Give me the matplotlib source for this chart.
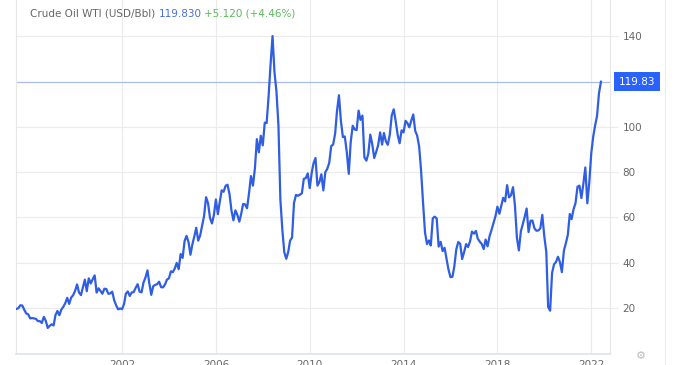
import matplotlib
matplotlib.use("Agg")
import matplotlib.pyplot as plt
import pandas as pd

# monthly WTI crude, Jul 1997 .. Jun 2022
wti_1997 = [19.6, 19.9, 21.2, 21.1, 19.2, 17.6]
wti_1998 = [17.2, 15.4, 15.6, 15.4, 15.2, 14.2, 14.2, 13.4, 16.1, 14.4, 11.2, 12.1]
wti_1999 = [12.8, 12.3, 16.8, 18.7, 16.8, 19.3, 20.5, 22.1, 24.5, 21.8, 24.6, 25.6]
wti_2000 = [27.6, 30.4, 26.9, 25.7, 29.0, 32.5, 27.4, 33.1, 30.8, 32.7, 34.4, 26.8]
wti_2001 = [28.7, 27.4, 26.3, 28.5, 28.4, 26.3, 26.4, 27.2, 23.4, 21.2, 19.4, 19.8]
wti_2002 = [19.5, 21.7, 26.3, 27.3, 25.3, 26.9, 27.0, 28.9, 30.5, 27.2, 26.9, 31.2]
wti_2003 = [33.5, 36.6, 31.0, 25.8, 29.6, 30.2, 30.5, 31.6, 29.2, 29.1, 30.4, 32.5]
wti_2004 = [33.1, 36.2, 35.8, 37.4, 39.9, 37.1, 43.8, 42.1, 49.6, 51.8, 49.1, 43.5]
wti_2005 = [48.2, 51.8, 55.4, 49.7, 52.0, 56.5, 60.6, 68.9, 66.2, 59.8, 57.3, 61.0]
wti_2006 = [67.9, 61.4, 66.6, 71.9, 71.3, 73.9, 74.4, 70.3, 62.9, 58.7, 63.1, 61.1]
wti_2007 = [58.1, 61.8, 65.9, 65.7, 64.0, 70.7, 78.2, 74.0, 81.7, 94.5, 88.7, 96.0]
wti_2008 = [91.8, 101.8, 101.6, 113.5, 127.4, 140.0, 124.1, 115.5, 100.6, 67.8, 54.4, 44.6]
wti_2009 = [41.7, 44.8, 49.7, 51.1, 66.3, 69.9, 69.5, 70.0, 70.6, 77.0, 77.3, 79.4]
wti_2010 = [72.9, 79.7, 83.8, 86.2, 74.0, 75.6, 79.0, 71.9, 80.0, 81.4, 84.1, 91.4]
wti_2011 = [92.2, 97.0, 106.7, 113.9, 102.7, 95.4, 95.7, 88.8, 79.2, 93.2, 100.4, 98.8]
wti_2012 = [98.5, 107.1, 103.0, 104.9, 86.5, 85.0, 88.1, 96.5, 92.2, 86.2, 88.9, 91.8]
wti_2013 = [97.5, 92.1, 97.2, 93.5, 92.0, 96.6, 105.0, 107.7, 102.3, 96.4, 92.7, 98.4]
wti_2014 = [97.5, 102.6, 101.6, 99.7, 102.7, 105.4, 98.2, 96.0, 91.2, 80.5, 66.2, 53.3]
wti_2015 = [48.2, 49.8, 47.6, 59.6, 60.3, 59.5, 47.1, 49.2, 45.1, 46.6, 41.7, 37.0]
wti_2016 = [33.6, 33.8, 38.3, 45.9, 49.1, 48.3, 41.6, 44.7, 48.2, 46.9, 49.4, 53.7]
wti_2017 = [52.8, 54.0, 50.6, 49.3, 48.3, 46.0, 50.2, 47.2, 51.7, 54.4, 57.4, 60.4]
wti_2018 = [64.7, 61.6, 64.9, 68.6, 67.0, 74.2, 68.8, 69.8, 73.3, 65.3, 50.9, 45.4]
wti_2019 = [53.8, 57.2, 60.1, 63.9, 53.5, 58.5, 58.6, 55.1, 54.1, 54.2, 55.2, 61.1]
wti_2020 = [51.6, 44.8, 20.5, 18.8, 35.5, 39.3, 40.3, 42.6, 40.2, 35.8, 45.3, 48.5]
wti_2021 = [52.2, 61.5, 59.2, 63.6, 66.3, 73.5, 74.0, 68.5, 75.0, 82.0, 66.2, 75.2]
wti_2022 = [88.2, 95.7, 100.3, 104.7, 114.7, 119.83]

prices = (wti_1997 + wti_1998 + wti_1999 + wti_2000 + wti_2001 + wti_2002
          + wti_2003 + wti_2004 + wti_2005 + wti_2006 + wti_2007 + wti_2008
          + wti_2009 + wti_2010 + wti_2011 + wti_2012 + wti_2013 + wti_2014
          + wti_2015 + wti_2016 + wti_2017 + wti_2018 + wti_2019 + wti_2020
          + wti_2021 + wti_2022)
dates = pd.date_range("1997-07-01", periods=len(prices), freq="MS")

year_ticks = ["2002", "2006", "2010", "2014", "2018", "2022"]
y_ticks = [20, 40, 60, 80, 100, 140]
last = prices[-1]

line_blue = "#2f5de3"
grid_col = "#ebebeb"
txt_col = "#666666"

fig = plt.figure(figsize=(6.8, 3.65), dpi=100)
ax = fig.add_axes([16 / 680, 11 / 365, 594 / 680, 354 / 365])

ax.plot(dates, prices, color=line_blue, lw=1.6, zorder=3)
ax.axhline(last, color="#a9bdf0", lw=0.9, zorder=2)

ax.set_xlim(pd.Timestamp("1997-06-25"), pd.Timestamp("2022-10-20"))
ax.set_ylim(-0.3, 155.9)

ax.set_xticks([pd.Timestamp(y + "-01-01") for y in year_ticks])
ax.set_xticklabels(year_ticks)
ax.set_yticks(y_ticks)
ax.yaxis.tick_right()
ax.grid(True, color=grid_col, lw=0.8, zorder=0)
ax.tick_params(axis="y", length=6, color=grid_col, labelcolor=txt_col,
               labelsize=7.5, pad=3)
ax.tick_params(axis="x", length=0, labelcolor=txt_col, labelsize=7.5, pad=4)

ax.spines["top"].set_visible(False)
ax.spines["left"].set_color("#e6e6e6")
ax.spines["right"].set_color("#e6e6e6")
ax.spines["bottom"].set_color("#dde3ee")
ax.spines["bottom"].set_linewidth(1.2)

# last value tag
ax.annotate(f"{last:.2f}", xy=(1.0, last), xycoords=("axes fraction", "data"),
            xytext=(19.5, 0), textcoords="offset points", ha="center",
            va="center", color="white", fontsize=7.5,
            bbox=dict(boxstyle="square,pad=0.45", fc="#2962ff", ec="none"),
            annotation_clip=False)

# header
fig.text(30 / 680, 1 - 14 / 365, "Crude Oil WTI (USD/Bbl)", color=txt_col,
         fontsize=7.5, va="center")
fig.text(159 / 680, 1 - 14 / 365, f"{last:.3f}", color="#4a6fd8",
         fontsize=7.5, va="center")
fig.text(204 / 680, 1 - 14 / 365, "+5.120 (+4.46%)", color="#5cb85c",
         fontsize=7.5, va="center")

fig.lines.append(plt.Line2D([665 / 680, 665 / 680], [0, 1],
                            transform=fig.transFigure, color="#eeeeee", lw=0.8))
fig.text(641 / 680, 1 - 356 / 365, "\u2699", color="#bbbbbb", fontsize=8,
         ha="center", va="center")

fig.savefig("out.png", dpi=100)
